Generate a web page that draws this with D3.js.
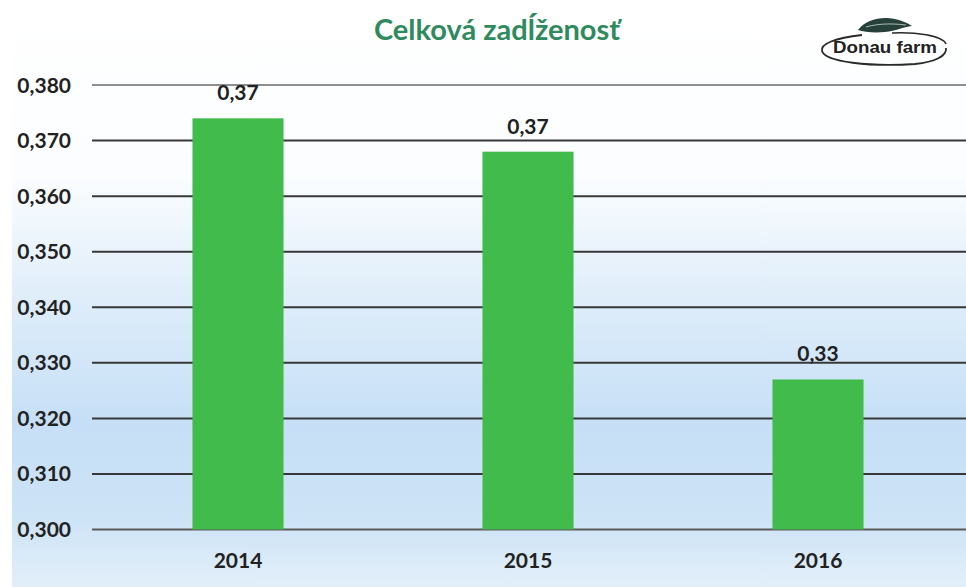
<!DOCTYPE html>
<html><head><meta charset="utf-8">
<script src="https://cdn.jsdelivr.net/npm/d3@7/dist/d3.min.js"></script>
<style>html,body{margin:0;padding:0;background:#fff;}svg{display:block;}</style>
</head><body>
<script>
const years = ["2014", "2015", "2016"];
const values = [0.374, 0.368, 0.327];
const valueLabels = ["0,37", "0,37", "0,33"];
const yTicks = [0.300, 0.310, 0.320, 0.330, 0.340, 0.350, 0.360, 0.370, 0.380];
const yTickLabels = ["0,300", "0,310", "0,320", "0,330", "0,340", "0,350", "0,360", "0,370", "0,380"];
const title = "Celková zadĺženosť";

const W = 966, H = 587;
const svg = d3.select("body").append("svg").attr("width", W).attr("height", H);
const defs = svg.append("defs");
const g = defs.append("linearGradient").attr("id", "bg").attr("x1", 0).attr("y1", 0).attr("x2", 0).attr("y2", 1);
g.append("stop").attr("offset", "0").attr("stop-color", "#ffffff");
g.append("stop").attr("offset", "0.3").attr("stop-color", "#fbfdff");
g.append("stop").attr("offset", "0.5").attr("stop-color", "#e0eefa");
g.append("stop").attr("offset", "0.72").attr("stop-color", "#c6dff6");
g.append("stop").attr("offset", "0.88").attr("stop-color", "#cde3f6");
g.append("stop").attr("offset", "1").attr("stop-color", "#e2eff9");
svg.append("rect").attr("width", W).attr("height", H).attr("fill", "#fff");
svg.append("rect").attr("x", 12).attr("y", 0).attr("width", W - 12).attr("height", H).attr("fill", "url(#bg)");

const y = d3.scaleLinear().domain([0.300, 0.380]).range([529.5, 85]);
const x = d3.scaleBand().domain(years).range([93, 963]).paddingInner(0.686).paddingOuter(0.343);

const font = "Lato, 'Open Sans', sans-serif";

// gridlines
svg.append("g").selectAll("line").data(yTicks).join("line")
  .attr("x1", 92).attr("x2", W)
  .attr("y1", d => y(d)).attr("y2", d => y(d))
  .attr("stroke", (d, i) => i === yTicks.length - 1 ? "#8f8f8f" : (i === 0 ? "#5a5a5a" : "#383838"))
  .attr("stroke-width", 2);

// y axis labels
svg.append("g").selectAll("text").data(yTicks).join("text")
  .attr("x", 71).attr("y", d => y(d)).attr("dy", "0.36em")
  .attr("text-anchor", "end")
  .attr("font-family", font).attr("font-weight", "bold").attr("font-size", 21)
  .attr("fill", "#222")
  .text((d, i) => yTickLabels[i]);

// bars
svg.append("g").selectAll("rect").data(years).join("rect")
  .attr("x", d => x(d)).attr("width", x.bandwidth())
  .attr("y", (d, i) => y(values[i]))
  .attr("height", (d, i) => y(0.300) - y(values[i]))
  .attr("fill", "#41bb4b");

// value labels
svg.append("g").selectAll("text").data(years).join("text")
  .attr("x", d => x(d) + x.bandwidth() / 2)
  .attr("y", (d, i) => y(values[i]) - 18)
  .attr("text-anchor", "middle")
  .attr("font-family", font).attr("font-weight", "bold").attr("font-size", 21)
  .attr("fill", "#222")
  .text((d, i) => valueLabels[i]);

// x labels
svg.append("g").selectAll("text").data(years).join("text")
  .attr("x", d => x(d) + x.bandwidth() / 2)
  .attr("y", 568)
  .attr("text-anchor", "middle")
  .attr("font-family", font).attr("font-weight", "bold").attr("font-size", 21)
  .attr("fill", "#222")
  .text(d => d);

// title
svg.append("text").attr("x", 497).attr("y", 40).attr("text-anchor", "middle")
  .attr("font-family", font).attr("font-weight", "bold").attr("font-size", 29)
  .attr("fill", "#2f8a5e").text(title);

// logo
const logo = svg.append("g");
logo.append("path")
  .attr("d", "M 862 35 C 835 38 820 44 822 51 C 825 62 870 67 915 64 C 935 62 947 56 946 48")
  .attr("fill", "none").attr("stroke", "#2a2a2a").attr("stroke-width", 1.8);
logo.append("path")
  .attr("d", "M 892 33 C 915 32 942 35 946 44")
  .attr("fill", "none").attr("stroke", "#2a2a2a").attr("stroke-width", 1.6);
logo.append("path")
  .attr("d", "M 858 30 C 864 22 874 18 886 18 C 896 18 906 22 912 26 C 903 27 896 31 885 32 C 874 33 864 32 858 30 Z")
  .attr("fill", "#27413a");
logo.append("path")
  .attr("d", "M 866 27 C 876 24 890 23 906 25")
  .attr("fill", "none").attr("stroke", "#c8d8d0").attr("stroke-width", 0.8);
logo.append("text").attr("x", 885).attr("y", 53).attr("text-anchor", "middle")
  .attr("font-family", "'Liberation Sans', Arial, sans-serif").attr("font-weight", "bold")
  .attr("font-size", 16).attr("fill", "#222")
  .attr("textLength", 104).attr("lengthAdjust", "spacingAndGlyphs")
  .text("Donau farm");
</script>
</body></html>
